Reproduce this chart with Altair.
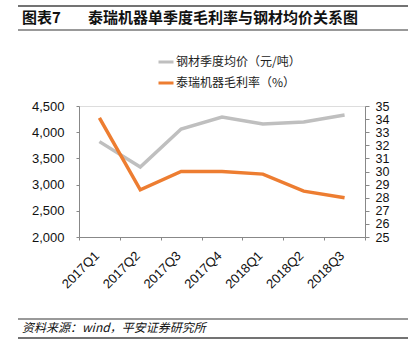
import altair as alt
import pandas as pd

quarters = ["2017Q1", "2017Q2", "2017Q3", "2017Q4", "2018Q1", "2018Q2", "2018Q3"]
steel_price = [3820, 3335, 4060, 4290, 4155, 4195, 4330]
gross_margin = [34.1, 28.6, 30.0, 30.0, 29.8, 28.5, 28.0]
s1 = "钢材季度均价（元/吨）"
s2 = "泰瑞机器毛利率（%）"

df1 = pd.DataFrame({"q": quarters, "v": steel_price, "s": s1})
df2 = pd.DataFrame({"q": quarters, "v": gross_margin, "s": s2})

FONT = "Liberation Sans"
CJK = "Noto Sans CJK SC"

color = alt.Color("s:N", scale=alt.Scale(domain=[s1, s2], range=["#BFBFBF", "#ED7D31"]),
                  legend=alt.Legend(title=None, orient="none", legendX=78, legendY=-53,
                                    symbolType="stroke", symbolSize=225, symbolStrokeWidth=3,
                                    labelFont=CJK, labelFontSize=12, labelColor="#222",
                                    rowPadding=6, labelOffset=1))

xenc = alt.X("q:N", sort=quarters, bandPosition=0.5,
             scale=alt.Scale(type="band", paddingInner=0, paddingOuter=0),
             axis=alt.Axis(title=None, labelAngle=-45, labelAlign="right", labelBaseline="top",
                           labelFont=FONT, labelFontSize=13, labelColor="#111",
                           tickBand="extent", domainColor="#888", tickColor="#888", tickSize=3,
                           labelPadding=9, labelOffset=-7))

gray = alt.Chart(df1).mark_line(strokeWidth=3.5).encode(
    x=xenc,
    y=alt.Y("v:Q", scale=alt.Scale(domain=[2000, 4500]),
            axis=alt.Axis(title=None, orient="left", values=[2000, 2500, 3000, 3500, 4000, 4500],
                          format=",.0f", grid=False, labelFont=FONT, labelFontSize=13, labelColor="#111",
                          domainColor="#888", tickColor="#888", tickSize=3, labelPadding=12)),
    color=color,
)

orange = alt.Chart(df2).mark_line(strokeWidth=3.5).encode(
    x=xenc,
    y=alt.Y("v:Q", scale=alt.Scale(domain=[25, 35]),
            axis=alt.Axis(title=None, orient="right", values=list(range(25, 36)),
                          grid=False, labelFont=FONT, labelFontSize=12.5, labelColor="#111",
                          domainColor="#888", tickColor="#888", tickSize=4, labelPadding=6,
                          labelOverlap=False)),
    color=color,
)

one = pd.DataFrame({"a": [0]})
base = alt.Chart(one)

def rule(y, w=1.5, c="#555"):
    return base.mark_rule(color=c, strokeWidth=w).encode(x=alt.value(-61), x2=alt.value(329), y=alt.value(y))

title1 = base.mark_text(align="left", baseline="middle", font=CJK, fontWeight="bold",
                        fontSize=15, color="#111").encode(x=alt.value(-57), y=alt.value(-88), text=alt.value("图表7"))
title2 = base.mark_text(align="left", baseline="middle", font=CJK, fontWeight="bold",
                        fontSize=15, color="#111").encode(x=alt.value(9), y=alt.value(-88),
                                                          text=alt.value("泰瑞机器单季度毛利率与钢材均价关系图"))
footer = base.mark_text(align="left", baseline="middle", font=CJK, fontStyle="italic",
                        fontSize=12, color="#111").encode(x=alt.value(-57), y=alt.value(222),
                                                          text=alt.value("资料来源：wind，平安证券研究所"))

chart = alt.layer(
    gray, orange,
    rule(-100, 1.5, "#444"), rule(-76, 1.5, "#777"), rule(213, 1.5, "#777"), rule(232, 1.5, "#444"),
    title1, title2, footer,
).resolve_scale(y="independent").properties(
    width=286, height=131,
    autosize=alt.AutoSizeParams(type="none"),
    padding={"left": 79, "top": 106, "right": 53, "bottom": 117},
).configure_view(stroke=None).configure(background="white")

chart.save("out.html", embed_options={"renderer": "svg", "actions": False})
